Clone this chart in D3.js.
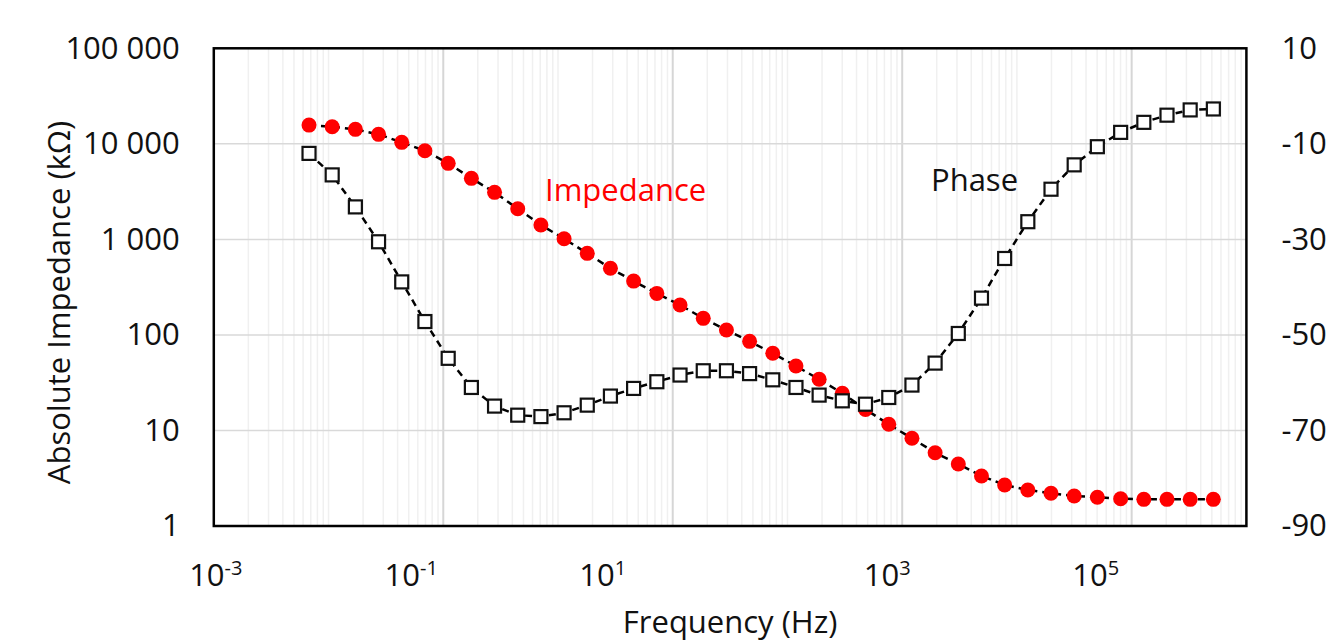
<!DOCTYPE html>
<html>
<head>
<meta charset="utf-8">
<script src="https://cdn.jsdelivr.net/npm/d3@7"></script>
<style>
  body { margin: 0; background: #fff; }
  text { font-family: "Open Sans", "Noto Sans", sans-serif; }
</style>
</head>
<body>
<svg id="drawing_region"></svg>
<script>
// frequency (Hz) of each measurement
const freq = [0.00676, 0.01076, 0.01714, 0.02729, 0.04345, 0.06918, 0.1104, 0.1758, 0.2799, 0.4457,
              0.7096, 1.130, 1.799, 2.864, 4.560, 7.271, 11.58, 18.45, 29.38, 46.77,
              74.47, 118.6, 188.8, 300.6, 478.6, 763.6, 1216, 1936, 3083, 4909,
              7816, 12445, 19815, 31550, 50234, 80168, 127640, 203240, 323590, 515230];
// absolute impedance (kOhm)
const impedance = [15700, 15100, 14180, 12570, 10370, 8470, 6250, 4355, 3105, 2094,
                   1413, 1016, 714, 498, 366, 272, 206, 149, 112.5, 85.7,
                   64.2, 47.2, 34.3, 24.5, 16.6, 11.6, 8.28, 5.85, 4.45, 3.34,
                   2.69, 2.38, 2.20, 2.06, 2.00, 1.93, 1.90, 1.90, 1.90, 1.90];
// phase (deg)
const phase = [-12.0, -16.5, -23.2, -30.5, -38.9, -47.2, -54.9, -61.0, -64.9, -66.8,
               -67.1, -66.3, -64.7, -62.8, -61.2, -59.8, -58.4, -57.5, -57.5, -58.1,
               -59.4, -61.0, -62.6, -63.8, -64.5, -63.1, -60.5, -55.9, -49.7, -42.3,
               -34.0, -26.3, -19.5, -14.4, -10.6, -7.6, -5.5, -4.0, -2.9, -2.7];

const impTicks = [1, 10, 100, 1000, 10000, 100000];
const phaseTicks = [-90, -70, -50, -30, -10, 10];
const xTickExp = [-3, -1, 1, 3, 5];

var config = {
    parent: '#drawing_region',
    width: 1334,
    height: 642,
    margin: {top:48.3, right:87.6, bottom:116, left:213.8},
    fontSize: 31,
    // label boxes in the source are placed by hand, a bit left of their ticks
    xLabelNudge: [2, -32, -70, -15, -36]
};

const data = freq.map((f, i) => ({f: f, z: impedance[i], p: phase[i]}));

const svg = d3.select(config.parent)
    .attr('width', config.width)
    .attr('height', config.height);

const inner_width = config.width - config.margin.left - config.margin.right;
const inner_height = config.height - config.margin.top - config.margin.bottom;

const chart = svg.append('g')
    .attr('transform', `translate(${config.margin.left}, ${config.margin.top})`);

const xscale = d3.scaleLog().domain([1e-3, 1e6]).range([0, inner_width]);
const yscale = d3.scaleLog().domain([1, 1e5]).range([inner_height, 0]);
const pscale = d3.scaleLinear().domain([-90, 10]).range([inner_height, 0]);

// vertical grid: every k*10^n, darker at labelled decades
let vgrid = [];
for (let n = -3; n < 6; n++) {
    for (let k = 1; k < 10; k++) vgrid.push({v: k * Math.pow(10, n), major: k === 1 && xTickExp.includes(n)});
}
chart.append('g').selectAll('line')
    .data(vgrid.filter(d => d.v > 1e-3))
    .join('line')
    .attr('x1', d => xscale(d.v)).attr('x2', d => xscale(d.v))
    .attr('y1', 0).attr('y2', inner_height)
    .attr('stroke', d => d.major ? '#d6d6d6' : '#f0f0f0')
    .attr('stroke-width', d => d.major ? 2 : 1.5);

// horizontal grid at impedance decades
chart.append('g').selectAll('line')
    .data(impTicks.slice(1, -1))
    .join('line')
    .attr('x1', 0).attr('x2', inner_width)
    .attr('y1', d => yscale(d)).attr('y2', d => yscale(d))
    .attr('stroke', '#d9d9d9')
    .attr('stroke-width', 1.5);

// left axis
const locale = d3.formatLocale({decimal: '.', thousands: ' ', grouping: [3], currency: ['', '']});
const yaxis = d3.axisLeft(yscale).tickValues(impTicks).tickFormat(locale.format(',')).tickSize(0).tickPadding(34);
const yg = chart.append('g').call(yaxis);
yg.select('.domain').remove();
yg.selectAll('text').attr('font-size', config.fontSize).attr('fill', '#111').style('font-family', '"Open Sans", sans-serif');

// right axis (plain hyphen for negatives)
const paxis = d3.axisRight(pscale).tickValues(phaseTicks).tickFormat(d => String(d)).tickSize(0).tickPadding(35);
const pg = chart.append('g').attr('transform', `translate(${inner_width}, 0)`).call(paxis);
pg.select('.domain').remove();
pg.selectAll('text').attr('font-size', config.fontSize).attr('fill', '#111').style('font-family', '"Open Sans", sans-serif');

// bottom labels with superscripts
const xl = chart.append('g').selectAll('text')
    .data(xTickExp)
    .join('text')
    .attr('x', (d, i) => xscale(Math.pow(10, d)) + config.xLabelNudge[i])
    .attr('y', inner_height + 60.5)
    .attr('text-anchor', 'middle')
    .attr('font-size', config.fontSize)
    .attr('fill', '#111');
xl.append('tspan').text('10');
xl.append('tspan').text(d => d).attr('font-size', 20).attr('dy', -11);

// axis titles
chart.append('text')
    .text('Frequency (Hz)')
    .attr('x', inner_width / 2)
    .attr('y', inner_height + 107)
    .attr('text-anchor', 'middle')
    .attr('font-size', config.fontSize)
    .attr('fill', '#111');

chart.append('text')
    .text('Absolute Impedance (kΩ)')
    .attr('transform', `translate(${70 - config.margin.left}, ${302.5 - config.margin.top}) rotate(-90)`)
    .attr('text-anchor', 'middle')
    .attr('font-size', config.fontSize)
    .attr('fill', '#111');

// series
const zline = d3.line().x(d => xscale(d.f)).y(d => yscale(d.z));
const pline = d3.line().x(d => xscale(d.f)).y(d => pscale(d.p));

chart.append('path')
    .attr('d', zline(data))
    .attr('fill', 'none').attr('stroke', '#000')
    .attr('stroke-width', 2.5).attr('stroke-dasharray', '7,5');

chart.append('g').selectAll('circle')
    .data(data)
    .join('circle')
    .attr('cx', d => xscale(d.f))
    .attr('cy', d => yscale(d.z))
    .attr('r', 7.5)
    .attr('fill', '#ff0000');

chart.append('path')
    .attr('d', pline(data))
    .attr('fill', 'none').attr('stroke', '#000')
    .attr('stroke-width', 2.5).attr('stroke-dasharray', '7,5');

chart.append('g').selectAll('rect')
    .data(data)
    .join('rect')
    .attr('x', d => xscale(d.f) - 6.5)
    .attr('y', d => pscale(d.p) - 6.5)
    .attr('width', 13).attr('height', 13)
    .attr('fill', '#fff')
    .attr('stroke', '#111').attr('stroke-width', 2.2);

// series labels
chart.append('text')
    .text('Impedance')
    .attr('x', 545 - config.margin.left)
    .attr('y', 201.5 - config.margin.top)
    .attr('font-size', config.fontSize)
    .attr('fill', '#ff0000');

chart.append('text')
    .text('Phase')
    .attr('x', 931 - config.margin.left)
    .attr('y', 191.5 - config.margin.top)
    .attr('font-size', config.fontSize)
    .attr('fill', '#111');

// plot frame
chart.append('rect')
    .attr('width', inner_width).attr('height', inner_height)
    .attr('fill', 'none').attr('stroke', '#000').attr('stroke-width', 2.5);
</script>
</body>
</html>
